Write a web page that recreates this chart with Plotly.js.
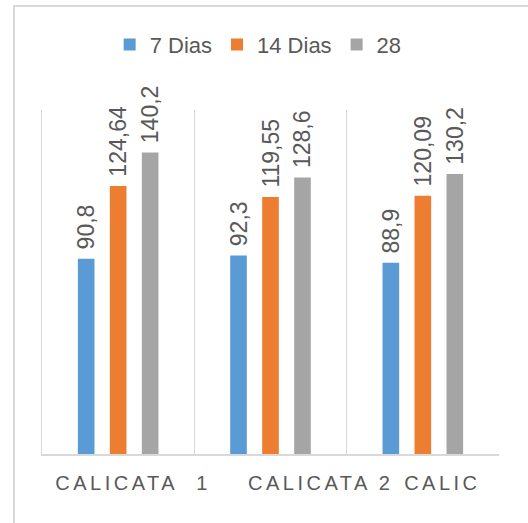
<!DOCTYPE html>
<html>
<head>
<meta charset="utf-8">
<script src="https://cdn.plot.ly/plotly-3.0.1.min.js"></script>
<style>
  html, body { margin: 0; padding: 0; background: #fff; }
  #frame { position: absolute; left: 13px; top: 5px; width: 600px; height: 600px;
           border: 2px solid #d9d9d9; box-sizing: border-box; pointer-events: none; z-index: 2; }
  #chart { position: absolute; left: 0; top: 0; width: 528px; height: 523px; }
  .x2tick text { letter-spacing: 3.5px; }
</style>
</head>
<body>
<div id="chart"></div>
<div id="frame"></div>
<script>
// Data
const categories = ["CALICATA 1", "CALICATA 2", "CALICATA 3"];
const tickLabels = ["CALICATA\u00a0\u00a01", "CALICATA 2", "CALIC"];
const seriesNames = ["7 Dias", "14 Dias", "28"];
const dias7  = [90.8, 92.3, 88.9];
const dias14 = [124.64, 119.55, 120.09];
const dias28 = [140.2, 128.6, 130.2];
const colors = ["#5B9BD5", "#ED7D31", "#A5A5A5"];

const fmt = v => "\u00a0" + String(v).replace(".", ",");
const seriesValues = [dias7, dias14, dias28];

const traces = seriesValues.map((vals, i) => ({
  type: "bar",
  name: seriesNames[i],
  x: categories,
  y: vals,
  marker: { color: colors[i] },
  text: vals.map(fmt),
  textposition: "outside",
  textangle: -90,
  textfont: { family: "Liberation Sans, Arial, sans-serif", size: 23, color: "#595959" },
  constraintext: "none",
  cliponaxis: false,
  hoverinfo: "skip"
}));

// carrier trace so the label axis (x2) is drawn; it has no points
traces.push({
  type: "scatter",
  mode: "markers",
  x: [],
  y: [],
  xaxis: "x2",
  yaxis: "y",
  showlegend: false,
  hoverinfo: "skip"
});

const layout = {
  width: 528,
  height: 523,
  margin: { l: 42, r: 29, t: 110, b: 69 },
  paper_bgcolor: "#ffffff",
  plot_bgcolor: "#ffffff",
  font: { family: "Liberation Sans, Arial, sans-serif", color: "#595959" },
  barmode: "group",
  bargap: 0.37,
  bargroupgap: 0.48,
  showlegend: true,
  legend: {
    orientation: "h",
    x: 0.473, xanchor: "center",
    y: 1.19, yanchor: "middle",
    font: { size: 22, color: "#595959" },
    itemwidth: 30,
    traceorder: "normal"
  },
  xaxis: {
    type: "category",
    tickson: "boundaries",
    ticks: "",
    showticklabels: false,
    showgrid: true,
    gridcolor: "#d9d9d9",
    gridwidth: 1.5,
    showline: true,
    linecolor: "#d9d9d9",
    linewidth: 1.5,
    fixedrange: true
  },
  xaxis2: {
    overlaying: "x",
    anchor: "y",
    side: "bottom",
    type: "linear",
    range: [-0.5, 2.5],
    autorange: false,
    tickmode: "array",
    tickvals: [0.098, 1.33, 2.128],
    ticktext: tickLabels,
    showgrid: false,
    zeroline: false,
    showline: false,
    ticks: "",
    tickfont: { family: "Liberation Sans, Arial, sans-serif", size: 20, color: "#595959" },
    ticklabelstandoff: 15,
    fixedrange: true
  },
  yaxis: {
    range: [0, 160],
    showgrid: false,
    zeroline: false,
    showticklabels: false,
    ticks: "",
    showline: true,
    linecolor: "#d9d9d9",
    linewidth: 1.5,
    fixedrange: true
  }
};

Plotly.newPlot("chart", traces, layout, { displayModeBar: false, staticPlot: true });
</script>
</body>
</html>
